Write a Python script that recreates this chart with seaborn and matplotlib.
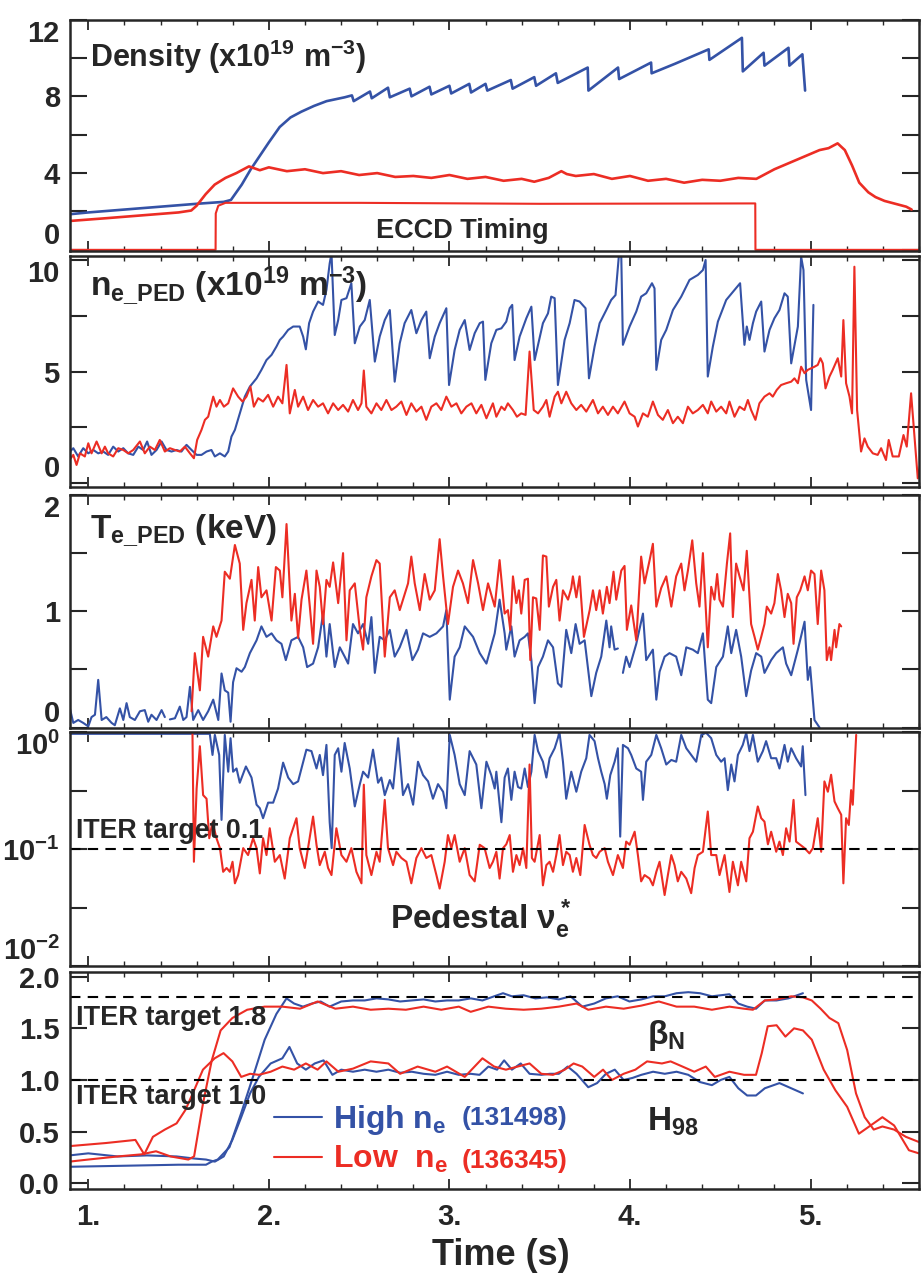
import numpy as np
import pandas as pd
import matplotlib
matplotlib.use("Agg")
import matplotlib.pyplot as plt
import seaborn as sns
from matplotlib.lines import Line2D
from matplotlib.ticker import MultipleLocator, FixedLocator, NullLocator, FixedFormatter

# ---------------- data ----------------
BLUE = "#3452a6"
RED = "#ec2d24"

# Panel 1: line-average density (1e19 m^-3)
dens_hi_t = [0.89, 1.0, 1.2, 1.4, 1.6, 1.75, 1.79, 1.85, 1.9, 1.95, 2.0, 2.06, 2.12, 2.18, 2.25, 2.32, 2.37, 2.42,
             2.46, 2.47, 2.56, 2.57, 2.66, 2.67, 2.78, 2.79, 2.89, 2.90, 3.0, 3.01, 3.11, 3.12, 3.2, 3.21, 3.34, 3.35,
             3.47, 3.48, 3.59, 3.60, 3.766, 3.77, 3.934, 3.94, 4.117, 4.12, 4.25, 4.436, 4.44, 4.62, 4.625, 4.74,
             4.745, 4.878, 4.883, 4.955, 4.97]
dens_hi = [1.85, 1.95, 2.1, 2.25, 2.4, 2.5, 2.6, 3.4, 4.2, 4.9, 5.6, 6.4, 6.9, 7.2, 7.5, 7.75, 7.85, 7.95,
           8.05, 7.75, 8.25, 7.9, 8.45, 7.95, 8.4, 8.0, 8.5, 8.1, 8.55, 8.15, 8.65, 8.2, 8.65, 8.3, 8.85, 8.4,
           9.0, 8.55, 9.2, 8.7, 9.5, 8.3, 9.5, 8.9, 9.76, 9.2, 9.7, 10.45, 9.9, 11.05, 9.3, 10.27,
           9.6, 10.53, 9.6, 10.19, 8.3]
dens_lo_t = [0.89, 1.1, 1.3, 1.5, 1.57, 1.6, 1.65, 1.7, 1.76, 1.82, 1.89, 1.95, 2.0, 2.1, 2.2, 2.3, 2.4, 2.5, 2.6,
             2.7, 2.8, 2.9, 3.0, 3.1, 3.2, 3.3, 3.4, 3.47, 3.55, 3.62, 3.65, 3.7, 3.8, 3.9, 4.0, 4.1, 4.2, 4.3,
             4.4, 4.5, 4.6, 4.7, 4.8, 4.9, 5.0, 5.05, 5.1, 5.15, 5.19, 5.23, 5.27, 5.32, 5.36, 5.41, 5.47, 5.53, 5.56]
dens_lo = [1.5, 1.65, 1.8, 1.95, 2.05, 2.3, 2.9, 3.4, 3.75, 4.0, 4.35, 4.15, 4.3, 4.1, 4.2, 4.0, 4.1, 3.9, 4.0,
           3.8, 3.85, 3.75, 3.9, 3.7, 3.8, 3.6, 3.7, 3.55, 3.75, 4.1, 3.95, 3.85, 3.95, 3.7, 3.85, 3.6, 3.7, 3.5,
           3.65, 3.6, 3.75, 3.7, 4.2, 4.6, 5.0, 5.2, 5.3, 5.55, 5.2, 4.4, 3.5, 3.0, 2.75, 2.55, 2.4, 2.25, 2.1]
eccd_t = [0.89, 1.705, 1.706, 1.72, 1.76, 2.5, 3.5, 4.694, 4.695, 5.62]
eccd = [0.0, 0.0, 1.9, 2.3, 2.45, 2.45, 2.4, 2.42, 0.0, 0.0]

# Panel 2: pedestal density (1e19 m^-3)
nped_hi_t = [0.889, 0.917, 0.944, 0.972, 1.0, 1.028, 1.055, 1.083, 1.11, 1.138, 1.166, 1.194, 1.221, 1.249, 1.277,
             1.304, 1.326, 1.35, 1.378, 1.406, 1.433, 1.461, 1.489, 1.516, 1.544, 1.572, 1.6, 1.627, 1.655, 1.682,
             1.701, 1.729, 1.756, 1.775, 1.793, 1.812, 1.839, 1.867, 1.895, 1.932, 1.959, 1.987, 2.015, 2.042,
             2.061, 2.079, 2.107, 2.135, 2.171, 2.19, 2.205, 2.223, 2.245, 2.273, 2.3, 2.319, 2.337, 2.347, 2.365,
             2.384, 2.402, 2.43, 2.457, 2.476, 2.504, 2.531, 2.559, 2.587, 2.614, 2.642, 2.67, 2.697, 2.725, 2.752,
             2.789, 2.817, 2.845, 2.872, 2.891, 2.919, 2.946, 2.983, 2.998, 3.029, 3.057, 3.085, 3.112, 3.14,
             3.168, 3.186, 3.199, 3.232, 3.26, 3.288, 3.315, 3.334, 3.348, 3.361, 3.389, 3.426, 3.454, 3.472,
             3.518, 3.546, 3.564, 3.583, 3.601, 3.638, 3.666, 3.693, 3.721, 3.754, 3.773, 3.804, 3.832, 3.869,
             3.896, 3.92, 3.939, 3.952, 3.961, 3.998, 4.035, 4.062, 4.09, 4.122, 4.136, 4.146, 4.173, 4.201,
             4.238, 4.284, 4.33, 4.376, 4.404, 4.419, 4.431, 4.459, 4.487, 4.533, 4.579, 4.61, 4.634, 4.647,
             4.662, 4.681, 4.699, 4.727, 4.745, 4.773, 4.8, 4.828, 4.856, 4.874, 4.893, 4.93, 4.948, 4.961,
             4.976, 5.003, 5.016]
nped_hi = [1.34, 1.57, 1.2, 1.57, 1.34, 1.49, 1.34, 1.42, 1.27, 1.64, 1.42, 1.57, 1.34, 1.27, 1.64,
           1.49, 1.87, 1.27, 1.49, 1.87, 1.49, 1.42, 1.49, 1.42, 1.72, 1.49, 1.27, 1.27, 1.42, 1.49,
           1.2, 1.34, 1.2, 1.42, 2.09, 2.39, 3.13, 3.88, 4.33, 4.7, 5.08, 5.52, 5.75, 6.12,
           6.42, 6.57, 6.87, 7.02, 7.02, 6.57, 6.0, 7.17, 7.69, 8.14, 7.99, 8.66, 9.85, 10.3, 6.64,
           7.31, 8.21, 8.29, 8.96, 6.27, 7.02, 7.31, 8.21, 5.45, 6.57, 7.31, 7.76, 4.55, 6.27, 7.17,
           7.76, 6.72, 7.31, 7.69, 5.6, 6.57, 7.17, 7.84, 4.4, 5.97, 6.87, 7.31, 5.97, 6.72,
           7.17, 7.24, 4.63, 6.27, 6.87, 6.94, 7.24, 7.84, 7.99, 5.52, 6.57, 7.39, 7.91, 5.52,
           7.17, 7.61, 8.36, 8.29, 4.4, 6.42, 7.17, 8.21, 8.14, 7.84, 4.7, 6.12, 7.17, 7.76,
           8.21, 8.43, 10.23, 10.15, 6.2, 7.02, 7.69, 8.36, 8.51, 8.96, 8.73, 5.08, 6.42, 6.87,
           7.76, 8.36, 9.11, 9.33, 9.55, 10.0, 4.78, 6.12, 7.24, 8.21, 8.66, 8.96, 6.2, 7.02,
           6.42, 7.17, 7.69, 8.14, 5.9, 6.87, 7.39, 7.76, 8.51, 8.36, 5.37, 7.02, 10.15, 9.55,
           4.63, 3.28, 7.99]
nped_lo_t = [0.889, 0.917, 0.935, 0.954, 0.981, 1.0, 1.018, 1.046, 1.074, 1.092, 1.11, 1.138, 1.166, 1.194, 1.221,
             1.249, 1.286, 1.313, 1.341, 1.369, 1.396, 1.424, 1.452, 1.48, 1.507, 1.535, 1.563, 1.585, 1.603, 1.627,
             1.646, 1.664, 1.692, 1.71, 1.729, 1.751, 1.775, 1.802, 1.83, 1.854, 1.876, 1.898, 1.917, 1.941, 1.968,
             1.996, 2.024, 2.051, 2.075, 2.098, 2.116, 2.144, 2.162, 2.19, 2.217, 2.245, 2.273, 2.3, 2.328, 2.356,
             2.384, 2.411, 2.439, 2.466, 2.494, 2.513, 2.526, 2.54, 2.568, 2.596, 2.623, 2.651, 2.679, 2.706, 2.734,
             2.762, 2.789, 2.817, 2.845, 2.872, 2.9, 2.928, 2.955, 2.983, 3.011, 3.039, 3.066, 3.094, 3.122, 3.149,
             3.177, 3.205, 3.241, 3.26, 3.288, 3.306, 3.324, 3.352, 3.374, 3.398, 3.422, 3.444, 3.467, 3.491,
             3.518, 3.537, 3.555, 3.583, 3.601, 3.62, 3.647, 3.675, 3.703, 3.73, 3.758, 3.795, 3.823, 3.85, 3.878,
             3.906, 3.933, 3.97, 3.998, 4.026, 4.044, 4.072, 4.099, 4.127, 4.155, 4.182, 4.21, 4.238, 4.265, 4.293,
             4.321, 4.348, 4.376, 4.404, 4.431, 4.45, 4.478, 4.505, 4.533, 4.551, 4.579, 4.607, 4.634, 4.653,
             4.671, 4.695, 4.717, 4.745, 4.773, 4.791, 4.813, 4.837, 4.865, 4.893, 4.911, 4.93, 4.948, 4.967,
             4.985, 5.003, 5.022, 5.04, 5.055, 5.068, 5.083, 5.105, 5.123, 5.151, 5.17, 5.182, 5.197, 5.216,
             5.23, 5.243, 5.258, 5.28, 5.299, 5.317, 5.345, 5.372, 5.391, 5.418, 5.433, 5.455, 5.489, 5.515,
             5.533, 5.557, 5.594, 5.612]
nped_lo = [0.97, 1.27, 0.82, 1.34, 1.2, 1.79, 1.34, 1.87, 1.34, 1.64, 1.34, 1.2, 1.57, 1.49, 1.34,
           1.49, 1.87, 1.34, 1.64, 1.49, 1.94, 1.42, 1.57, 1.49, 1.42, 1.64, 1.34, 1.12, 1.94, 2.39,
           2.84, 2.98, 3.88, 3.43, 3.73, 3.43, 3.58, 4.25, 3.88, 3.66, 3.88, 4.33, 3.43, 3.81, 3.66,
           3.96, 3.43, 3.88, 3.58, 5.3, 3.13, 4.18, 3.43, 3.88, 3.28, 3.73, 3.43, 3.58, 3.13, 3.58,
           3.28, 3.51, 3.21, 3.73, 3.28, 3.58, 5.05, 3.43, 3.13, 3.58, 3.28, 3.73, 3.28, 3.43, 3.66,
           3.06, 3.58, 3.21, 3.43, 2.84, 3.43, 3.58, 3.28, 3.88, 3.43, 3.58, 3.13, 3.43, 3.58, 3.13,
           3.51, 2.91, 3.58, 2.98, 3.43, 3.28, 3.58, 3.28, 2.98, 3.13, 3.06, 5.9, 3.28, 3.13,
           3.43, 3.73, 2.98, 3.88, 4.1, 3.58, 4.1, 3.58, 3.28, 3.51, 3.21, 3.73, 3.13, 3.43, 3.06,
           3.43, 3.13, 3.66, 3.13, 2.98, 2.54, 3.13, 2.98, 3.66, 3.06, 2.84, 3.28, 2.69, 2.98, 2.69,
           3.43, 3.13, 3.28, 3.51, 3.13, 3.66, 3.21, 3.43, 3.13, 3.66, 2.98, 3.43, 3.28, 3.73,
           3.28, 2.84, 3.58, 3.88, 4.03, 3.88, 4.18, 4.4, 4.48, 4.55, 4.7, 4.48, 5.22, 4.93,
           5.08, 5.15, 5.22, 5.3, 5.6, 5.37, 4.25, 4.78, 5.08, 5.6, 4.78, 7.31, 4.48, 3.88,
           3.13, 9.7, 3.28, 1.42, 2.01, 1.64, 1.34, 1.27, 1.57, 1.04, 1.94, 1.2, 1.2, 2.16,
           1.64, 4.03, 0.22, 1.04]

# Panel 3: pedestal temperature (keV); NaN marks a gap in the trace
tped_hi_t = [0.898, 0.917, 0.944, 0.972, 1.0, 1.018, 1.037, 1.055, 1.074, 1.1, 1.129, 1.147, 1.175, 1.194, 1.212,
             1.23, 1.258, 1.286, 1.313, 1.332, 1.35, 1.378, 1.406, 1.424, 1.44, 1.452, 1.48, 1.507, 1.526, 1.544,
             1.563, 1.581, 1.609, 1.636, 1.664, 1.692, 1.72, 1.738, 1.756, 1.775, 1.788, 1.802, 1.821, 1.849,
             1.867, 1.895, 1.932, 1.959, 1.987, 2.015, 2.042, 2.07, 2.094, 2.125, 2.162, 2.19, 2.212, 2.245,
             2.273, 2.3, 2.319, 2.337, 2.365, 2.393, 2.42, 2.439, 2.466, 2.494, 2.522, 2.55, 2.568, 2.587, 2.614,
             2.642, 2.67, 2.697, 2.725, 2.762, 2.795, 2.826, 2.854, 2.891, 2.928, 2.965, 2.983, 3.002, 3.029,
             3.057, 3.085, 3.131, 3.168, 3.205, 3.251, 3.278, 3.306, 3.315, 3.343, 3.361, 3.389, 3.417, 3.435,
             3.454, 3.472, 3.491, 3.518, 3.546, 3.574, 3.601, 3.62, 3.647, 3.675, 3.699, 3.721, 3.749, 3.786,
             3.813, 3.841, 3.869, 3.887, 3.896, 3.915, 3.933, 3.947, 3.961, 3.979, 3.998, 4.035, 4.072, 4.09,
             4.127, 4.146, 4.164, 4.192, 4.219, 4.256, 4.284, 4.312, 4.348, 4.376, 4.404, 4.431, 4.45, 4.478,
             4.515, 4.542, 4.561, 4.588, 4.616, 4.644, 4.671, 4.699, 4.727, 4.745, 4.782, 4.81, 4.847, 4.865,
             4.893, 4.93, 4.967, 4.985, 4.998, 5.022, 5.05]
tped_hi = [0.165, 0.04, 0.065, 0.04, 0.01, 0.09, 0.11, 0.41, 0.065, 0.09, 0.04, 0.02, 0.165, 0.065, 0.21,
           0.09, 0.065, 0.14, 0.15, 0.05, 0.11, 0.065, 0.15, 0.09, np.nan, 0.07, 0.08, 0.18, 0.065, 0.09,
           0.35, 0.065, 0.15, 0.065, 0.14, 0.24, 0.065, 0.465, 0.32, 0.3, 0.05, 0.39, 0.51, 0.48,
           0.52, 0.64, 0.75, 0.87, 0.78, 0.81, 0.75, 0.72, 0.58, 0.75, 0.78, 0.69, 0.52, 0.55,
           0.69, 0.98, 0.61, 0.89, 0.52, 0.69, 0.61, 0.55, 0.89, 0.81, 0.89, 0.72, 0.95, 0.47, 0.78,
           0.75, 0.84, 0.61, 0.69, 0.84, 0.58, 0.67, 0.81, 0.78, 0.81, 0.87, 1.01, 0.24, 0.61,
           0.69, 0.87, 0.78, 0.64, 0.55, 0.81, 1.1, 0.81, 0.67, 0.87, 0.61, 0.75, 0.78, 0.81,
           0.58, 0.21, 0.52, 0.61, 0.75, 0.69, 0.38, 0.35, 0.84, 0.64, 0.89, 0.72, 0.75, 0.27,
           0.47, 0.61, 0.92, 0.69, 0.87, 0.67, 0.68, np.nan, 0.47, 0.61, 0.52, 0.72, 0.98, 0.58,
           0.67, 0.24, 0.48, 0.61, 0.64, 0.61, 0.45, 0.69, 0.67, 0.64, 0.81, 0.24, 0.21, 0.52,
           0.61, 0.87, 0.64, 0.84, 0.61, 0.27, 0.49, 0.64, 0.61, 0.47, 0.58, 0.64, 0.69, 0.55,
           0.45, 0.67, 0.91, 0.41, 0.52, 0.065, 0.0]
tped_lo_t = [1.572, 1.59, 1.618, 1.636, 1.664, 1.692, 1.71, 1.738, 1.756, 1.784, 1.812, 1.839, 1.858, 1.876, 1.904,
             1.922, 1.941, 1.959, 1.987, 2.015, 2.039, 2.061, 2.075, 2.098, 2.125, 2.144, 2.162, 2.181, 2.208,
             2.227, 2.245, 2.264, 2.282, 2.3, 2.319, 2.337, 2.356, 2.384, 2.411, 2.43, 2.448, 2.476, 2.504, 2.522,
             2.54, 2.568, 2.596, 2.614, 2.642, 2.67, 2.697, 2.725, 2.743, 2.771, 2.789, 2.808, 2.836, 2.863,
             2.891, 2.919, 2.946, 2.965, 2.992, 3.02, 3.048, 3.075, 3.103, 3.131, 3.159, 3.186, 3.214, 3.251,
             3.278, 3.306, 3.324, 3.337, 3.352, 3.371, 3.385, 3.398, 3.417, 3.435, 3.448, 3.463, 3.481, 3.5,
             3.518, 3.537, 3.551, 3.574, 3.592, 3.61, 3.629, 3.657, 3.675, 3.684, 3.703, 3.721, 3.745, 3.777,
             3.795, 3.813, 3.832, 3.85, 3.872, 3.887, 3.909, 3.924, 3.952, 3.97, 3.983, 4.007, 4.035, 4.062,
             4.081, 4.109, 4.127, 4.146, 4.173, 4.201, 4.229, 4.256, 4.284, 4.302, 4.321, 4.345, 4.367, 4.385,
             4.404, 4.431, 4.45, 4.468, 4.483, 4.496, 4.515, 4.537, 4.555, 4.57, 4.588, 4.607, 4.629, 4.647,
             4.671, 4.69, 4.708, 4.727, 4.745, 4.758, 4.782, 4.8, 4.819, 4.837, 4.856, 4.874, 4.893, 4.906,
             4.924, 4.943, 4.967, 4.985, 5.003, 5.022, 5.04, 5.059, 5.077, 5.09, 5.105, 5.114, 5.133, 5.142,
             5.16, 5.17]
tped_lo = [0.14, 0.64, 0.32, 0.78, 0.61, 0.87, 0.78, 0.92, 1.34, 1.28, 1.57, 1.41, 0.84, 1.07, 1.27,
           0.92, 1.38, 1.12, 1.18, 0.92, 1.38, 1.35, 1.12, 1.75, 0.92, 1.15, 0.77, 1.1, 1.35,
           1.04, 0.72, 1.35, 1.21, 0.89, 1.27, 1.21, 1.42, 1.07, 1.5, 0.75, 1.18, 1.24, 0.84, 0.67,
           1.12, 1.3, 1.44, 1.41, 0.61, 1.12, 1.18, 1.01, 1.1, 1.24, 1.47, 1.24, 1.01, 1.32,
           1.1, 1.18, 1.62, 1.3, 0.89, 1.21, 1.35, 1.24, 1.07, 1.44, 1.24, 1.01, 1.24, 1.04,
           1.44, 0.98, 1.01, 0.84, 1.3, 1.07, 1.18, 0.98, 1.27, 1.28, 0.58, 1.12, 1.11, 0.84,
           1.48, 1.47, 1.04, 1.21, 1.27, 0.92, 1.18, 1.1, 1.2, 1.3, 1.12, 1.3, 0.78, 1.01,
           1.18, 1.01, 1.18, 0.98, 1.21, 1.07, 1.34, 1.1, 1.35, 1.39, 0.84, 1.05, 0.75, 1.47,
           1.24, 1.44, 1.58, 1.04, 1.2, 1.3, 1.04, 1.3, 1.41, 1.18, 1.35, 1.61, 1.24, 1.04,
           1.5, 0.69, 1.21, 1.1, 1.32, 1.1, 1.04, 1.41, 1.67, 0.95, 1.41, 1.3, 1.18, 1.52,
           0.89, 0.78, 0.67, 0.78, 0.89, 1.04, 0.98, 1.07, 1.32, 1.18, 0.95, 1.15, 1.07, 0.72,
           1.12, 1.18, 1.3, 1.18, 1.35, 1.32, 0.89, 1.35, 1.18, 0.58, 0.69, 0.58, 0.84, 0.69,
           0.89, 0.87]

# Panel 4: pedestal collisionality nu_e*
nu_hi_t = [0.9, 1.1, 1.3, 1.5, 1.673, 1.688, 1.701, 1.725, 1.738, 1.756, 1.775, 1.788, 1.802, 1.821, 1.839, 1.873,
           1.904, 1.932, 1.95, 1.968, 1.996, 2.024, 2.051, 2.079, 2.107, 2.135, 2.162, 2.208, 2.236, 2.264, 2.282,
           2.3, 2.319, 2.337, 2.348, 2.365, 2.384, 2.402, 2.42, 2.448, 2.476, 2.504, 2.522, 2.55, 2.577, 2.605,
           2.623, 2.642, 2.67, 2.688, 2.716, 2.743, 2.771, 2.799, 2.826, 2.854, 2.882, 2.909, 2.937, 2.965, 2.983,
           3.002, 3.029, 3.057, 3.085, 3.112, 3.149, 3.177, 3.205, 3.232, 3.251, 3.26, 3.288, 3.306, 3.324, 3.343,
           3.361, 3.38, 3.398, 3.417, 3.435, 3.454, 3.472, 3.491, 3.518, 3.537, 3.555, 3.583, 3.61, 3.629, 3.647,
           3.675, 3.703, 3.73, 3.758, 3.776, 3.804, 3.823, 3.841, 3.86, 3.872, 3.891, 3.915, 3.933, 3.946, 3.961,
           3.989, 4.007, 4.035, 4.062, 4.072, 4.09, 4.118, 4.146, 4.173, 4.201, 4.229, 4.256, 4.284, 4.312, 4.339,
           4.367, 4.395, 4.422, 4.45, 4.478, 4.505, 4.524, 4.542, 4.561, 4.579, 4.598, 4.625, 4.644, 4.662, 4.681,
           4.708, 4.736, 4.754, 4.782, 4.81, 4.828, 4.856, 4.874, 4.893, 4.92, 4.948, 4.957, 4.972]
nu_hi = [0.97, 0.97, 0.97, 0.97, 0.97, 0.64, 0.95, 0.64, 0.178, 0.95, 0.46, 0.89, 0.46, 0.49, 0.37, 0.51,
         0.41, 0.24, 0.224, 0.184, 0.25, 0.25, 0.33, 0.55, 0.41, 0.36, 0.38, 0.71, 0.69, 0.49, 0.64,
         0.43, 0.78, 0.17, 0.102, 0.64, 0.73, 0.46, 0.81, 0.49, 0.232, 0.36, 0.46, 0.41, 0.71, 0.37,
         0.41, 0.29, 0.39, 0.33, 0.89, 0.29, 0.36, 0.24, 0.56, 0.43, 0.38, 0.27, 0.36, 0.31, 0.224,
         0.95, 0.64, 0.36, 0.29, 0.69, 0.53, 0.224, 0.56, 0.43, 0.33, 0.46, 0.17, 0.41, 0.49, 0.264,
         0.46, 0.34, 0.33, 0.49, 0.34, 0.46, 0.95, 0.69, 0.56, 0.41, 0.6, 0.73, 0.99, 0.56, 0.27,
         0.46, 0.31, 0.46, 0.6, 0.95, 0.84, 0.6, 0.46, 0.36, 0.27, 0.43, 0.56, 0.73, 0.128, 0.78,
         0.73, 0.64, 0.49, 0.46, 0.264, 0.56, 0.64, 0.95, 0.73, 0.53, 0.58, 0.56, 0.95, 0.73, 0.64,
         0.56, 0.95, 0.99, 0.89, 0.64, 0.56, 0.6, 0.32, 0.53, 0.38, 0.64, 0.78, 0.99, 0.69, 0.95,
         0.56, 0.69, 0.84, 0.6, 0.6, 0.49, 0.78, 0.56, 0.73, 0.6, 0.51, 0.76, 0.29]
nu_lo_t = [1.577, 1.585, 1.6, 1.618, 1.636, 1.655, 1.67, 1.688, 1.71, 1.729, 1.747, 1.766, 1.784, 1.799, 1.812, 1.83,
           1.858, 1.885, 1.913, 1.932, 1.95, 1.968, 1.987, 2.005, 2.033, 2.061, 2.088, 2.116, 2.153, 2.171, 2.199,
           2.217, 2.245, 2.264, 2.282, 2.31, 2.328, 2.347, 2.374, 2.402, 2.43, 2.457, 2.485, 2.513, 2.526, 2.54,
           2.568, 2.596, 2.614, 2.642, 2.66, 2.688, 2.706, 2.734, 2.762, 2.789, 2.817, 2.845, 2.872, 2.9, 2.928,
           2.946, 2.974, 2.992, 3.011, 3.029, 3.057, 3.085, 3.112, 3.14, 3.168, 3.195, 3.223, 3.241, 3.26, 3.278,
           3.297, 3.315, 3.334, 3.352, 3.371, 3.389, 3.408, 3.426, 3.444, 3.457, 3.472, 3.5, 3.518, 3.537, 3.555,
           3.574, 3.592, 3.61, 3.629, 3.647, 3.666, 3.684, 3.703, 3.725, 3.749, 3.776, 3.795, 3.813, 3.832, 3.86,
           3.878, 3.906, 3.933, 3.961, 3.979, 3.998, 4.026, 4.044, 4.062, 4.081, 4.109, 4.127, 4.146, 4.164, 4.192,
           4.21, 4.229, 4.247, 4.265, 4.284, 4.312, 4.339, 4.358, 4.376, 4.404, 4.431, 4.45, 4.478, 4.496, 4.524,
           4.551, 4.57, 4.598, 4.616, 4.644, 4.662, 4.681, 4.708, 4.727, 4.745, 4.764, 4.782, 4.81, 4.828, 4.847,
           4.865, 4.884, 4.906, 4.92, 4.939, 4.967, 4.994, 5.013, 5.04, 5.059, 5.077, 5.096, 5.114, 5.133, 5.151,
           5.17, 5.182, 5.197, 5.212, 5.225, 5.234, 5.253]
nu_lo = [0.99, 0.078, 0.33, 0.76, 0.29, 0.27, 0.124, 0.17, 0.124, 0.102, 0.064, 0.069, 0.064, 0.078, 0.051, 0.06,
         0.102, 0.089, 0.124, 0.102, 0.062, 0.124, 0.089, 0.151, 0.078, 0.089, 0.056, 0.124, 0.184, 0.102, 0.069,
         0.102, 0.19, 0.109, 0.073, 0.095, 0.069, 0.06, 0.151, 0.089, 0.078, 0.102, 0.064, 0.051, 0.356, 0.089,
         0.06, 0.095, 0.078, 0.264, 0.102, 0.073, 0.095, 0.084, 0.078, 0.051, 0.084, 0.102, 0.084, 0.089, 0.06,
         0.046, 0.078, 0.132, 0.102, 0.132, 0.078, 0.102, 0.06, 0.053, 0.109, 0.102, 0.069, 0.078, 0.095, 0.056,
         0.102, 0.11, 0.132, 0.064, 0.089, 0.073, 0.102, 0.069, 0.53, 0.084, 0.078, 0.132, 0.049, 0.073, 0.078,
         0.064, 0.089, 0.132, 0.073, 0.095, 0.089, 0.064, 0.084, 0.06, 0.161, 0.109, 0.089, 0.084, 0.095, 0.102,
         0.078, 0.06, 0.089, 0.069, 0.116, 0.109, 0.141, 0.089, 0.053, 0.06, 0.056, 0.049, 0.064, 0.078, 0.0405,
         0.06, 0.089, 0.073, 0.053, 0.064, 0.056, 0.042, 0.069, 0.089, 0.095, 0.21, 0.089, 0.089, 0.06, 0.089,
         0.043, 0.078, 0.049, 0.078, 0.053, 0.124, 0.141, 0.232, 0.184, 0.172, 0.11, 0.141, 0.095, 0.116, 0.089,
         0.151, 0.116, 0.264, 0.116, 0.11, 0.102, 0.092, 0.102, 0.184, 0.095, 0.38, 0.31, 0.433, 0.256, 0.224,
         0.197, 0.051, 0.184, 0.161, 0.32, 0.24, 0.95]

# Panel 5: beta_N and H98
bn_hi_t = [0.896, 1.2, 1.5, 1.652, 1.684, 1.717, 1.782, 1.847, 1.912, 1.977, 2.042, 2.098, 2.14, 2.189, 2.238, 2.287,
           2.336, 2.401, 2.466, 2.531, 2.596, 2.662, 2.727, 2.792, 2.857, 2.922, 2.987, 3.052, 3.118, 3.183, 3.248,
           3.297, 3.346, 3.411, 3.476, 3.541, 3.606, 3.671, 3.736, 3.802, 3.867, 3.932, 3.997, 4.063, 4.128, 4.193,
           4.258, 4.323, 4.388, 4.454, 4.502, 4.551, 4.6, 4.649, 4.698, 4.747, 4.812, 4.877, 4.926, 4.958]
bn_hi = [0.16, 0.17, 0.18, 0.18, 0.21, 0.23, 0.35, 0.68, 1.03, 1.39, 1.64, 1.79, 1.74, 1.71, 1.74, 1.76,
         1.71, 1.76, 1.77, 1.77, 1.79, 1.78, 1.76, 1.77, 1.78, 1.76, 1.77, 1.77, 1.79, 1.77, 1.81,
         1.84, 1.81, 1.82, 1.79, 1.8, 1.78, 1.81, 1.71, 1.74, 1.79, 1.81, 1.76, 1.78, 1.81, 1.81,
         1.84, 1.85, 1.84, 1.81, 1.82, 1.83, 1.74, 1.71, 1.69, 1.77, 1.77, 1.79, 1.82, 1.84]
h98_hi_t = [0.896, 1.0, 1.163, 1.326, 1.489, 1.586, 1.652, 1.701, 1.75, 1.798, 1.847, 1.896, 1.945, 2.01, 2.075,
            2.114, 2.157, 2.205, 2.254, 2.303, 2.352, 2.401, 2.466, 2.531, 2.596, 2.662, 2.727, 2.792, 2.857, 2.922,
            2.987, 3.052, 3.118, 3.167, 3.216, 3.264, 3.303, 3.346, 3.395, 3.444, 3.509, 3.557, 3.606, 3.655, 3.704,
            3.769, 3.818, 3.867, 3.916, 3.965, 4.014, 4.063, 4.128, 4.193, 4.258, 4.323, 4.388, 4.454, 4.502, 4.551,
            4.6, 4.649, 4.698, 4.747, 4.828, 4.893, 4.958]
h98_hi = [0.27, 0.29, 0.26, 0.27, 0.26, 0.24, 0.23, 0.21, 0.26, 0.42, 0.64, 0.87, 1.03, 1.16, 1.21,
          1.32, 1.16, 1.1, 1.16, 1.19, 1.05, 1.1, 1.08, 1.1, 1.08, 1.1, 1.07, 1.08, 1.06, 1.05,
          1.08, 1.05, 1.06, 1.05, 1.13, 1.1, 1.19, 1.1, 1.16, 1.06, 1.05, 1.06, 1.06, 1.13, 1.06,
          0.93, 0.97, 1.06, 1.1, 1.0, 1.02, 1.05, 1.08, 1.06, 1.08, 1.05, 0.98, 0.95, 1.0, 1.03,
          0.92, 0.85, 0.85, 0.92, 0.97, 0.92, 0.87]
bn_lo_t = [0.896, 1.0, 1.163, 1.293, 1.375, 1.456, 1.554, 1.586, 1.635, 1.684, 1.733, 1.798, 1.88, 1.977, 2.075,
           2.173, 2.27, 2.368, 2.466, 2.564, 2.662, 2.759, 2.857, 2.955, 3.052, 3.118, 3.216, 3.313, 3.411, 3.509,
           3.606, 3.704, 3.769, 3.867, 3.965, 4.063, 4.16, 4.258, 4.356, 4.454, 4.551, 4.632, 4.681, 4.747, 4.812,
           4.893, 4.958, 5.007, 5.056, 5.105, 5.154, 5.203, 5.252, 5.3, 5.35, 5.398, 5.463, 5.528, 5.6]
bn_lo = [0.21, 0.23, 0.26, 0.28, 0.31, 0.26, 0.23, 0.26, 0.77, 1.19, 1.48, 1.6, 1.68, 1.71, 1.71,
         1.69, 1.76, 1.69, 1.71, 1.68, 1.69, 1.68, 1.71, 1.68, 1.71, 1.66, 1.71, 1.69, 1.68, 1.69,
         1.71, 1.74, 1.68, 1.71, 1.69, 1.72, 1.76, 1.71, 1.71, 1.68, 1.71, 1.69, 1.68, 1.77, 1.78,
         1.81, 1.8, 1.77, 1.69, 1.6, 1.55, 1.29, 0.87, 0.64, 0.52, 0.55, 0.52, 0.45, 0.4]
h98_lo_t = [0.896, 1.098, 1.261, 1.31, 1.358, 1.424, 1.489, 1.538, 1.586, 1.635, 1.7, 1.749, 1.798, 1.847, 1.896,
            1.945, 2.01, 2.075, 2.14, 2.205, 2.27, 2.319, 2.385, 2.466, 2.564, 2.662, 2.727, 2.824, 2.922, 2.987,
            3.085, 3.183, 3.248, 3.313, 3.378, 3.444, 3.509, 3.574, 3.639, 3.688, 3.736, 3.802, 3.851, 3.9, 3.965,
            4.03, 4.095, 4.177, 4.225, 4.291, 4.356, 4.42, 4.47, 4.551, 4.632, 4.698, 4.73, 4.763, 4.812, 4.861,
            4.909, 4.958, 5.007, 5.073, 5.138, 5.203, 5.268, 5.333, 5.398, 5.463, 5.545, 5.6]
h98_lo = [0.36, 0.39, 0.42, 0.28, 0.45, 0.52, 0.58, 0.71, 0.9, 1.1, 1.21, 1.26, 1.18, 1.03, 1.06,
          1.05, 1.08, 1.13, 1.1, 1.16, 1.1, 1.18, 1.08, 1.11, 1.18, 1.16, 1.06, 1.13, 1.08, 1.13,
          1.03, 1.21, 1.13, 1.1, 1.13, 1.16, 1.06, 1.05, 1.1, 1.16, 1.13, 1.03, 1.1, 1.0, 1.06,
          1.1, 1.18, 1.16, 1.18, 1.13, 1.08, 1.13, 1.03, 1.08, 1.05, 1.05, 1.26, 1.52, 1.53, 1.42,
          1.5, 1.48, 1.39, 1.1, 0.9, 0.74, 0.48, 0.56, 0.64, 0.56, 0.32, 0.29]

x_ticks = [1, 2, 3, 4, 5]
x_ticklabels = ["1.", "2.", "3.", "4.", "5."]

# ---------------- style ----------------
sns.set_style("ticks")
plt.rcParams["font.family"] = ["Liberation Sans", "DejaVu Sans"]
plt.rcParams["font.weight"] = "bold"
plt.rcParams["mathtext.default"] = "regular"
plt.rcParams["axes.linewidth"] = 1.8

fig = plt.figure(figsize=(9.23, 12.8), dpi=100)
L, W = 0.0753, 0.9204
rects = [(0.8039, 0.1808), (0.6195, 0.1805), (0.4316, 0.1817), (0.2453, 0.1826), (0.0711, 0.1695)]
axes = [fig.add_axes([L, b, W, h]) for b, h in rects]


def draw(ax, t, v, color, lw=1.5):
    df = pd.DataFrame({"t": t, "v": v})
    df["seg"] = df["v"].isna().cumsum()
    df = df.dropna()
    sns.lineplot(data=df, x="t", y="v", units="seg", estimator=None, sort=False,
                 color=color, lw=lw, ax=ax, legend=False)


draw(axes[0], dens_hi_t, dens_hi, BLUE, 1.9)
draw(axes[0], dens_lo_t, dens_lo, RED, 1.9)
draw(axes[0], eccd_t, eccd, RED, 1.5)
draw(axes[1], nped_hi_t, nped_hi, BLUE)
draw(axes[1], nped_lo_t, nped_lo, RED)
draw(axes[2], tped_hi_t, tped_hi, BLUE)
draw(axes[2], tped_lo_t, tped_lo, RED)
draw(axes[3], nu_hi_t, nu_hi, BLUE)
draw(axes[3], nu_lo_t, nu_lo, RED)
draw(axes[4], bn_hi_t, bn_hi, BLUE)
draw(axes[4], h98_hi_t, h98_hi, BLUE)
draw(axes[4], bn_lo_t, bn_lo, RED)
draw(axes[4], h98_lo_t, h98_lo, RED)

axes[3].set_yscale("log")

ylims = [(-0.06, 12.0), (-0.17, 10.18), (0.0, 2.0), (0.01, 1.0), (-0.055, 2.045)]
yticks = [[0, 2, 4, 6, 8, 10, 12], [0, 2.5, 5, 7.5, 10], [0, 0.5, 1, 1.5, 2],
          [0.01, 10 ** -1.5, 0.1, 10 ** -0.5, 1.0], [0, 0.5, 1.0, 1.5, 2.0]]
ylabels = [["0", "", "4", "", "8", "", "12"], ["0", "", "5", "", "10"], ["0", "", "1", "", "2"],
           ["$10^{-2}$", "", "$10^{-1}$", "", "$10^{0}$"], ["0.0", "0.5", "1.0", "1.5", "2.0"]]

for i, ax in enumerate(axes):
    ax.set_xlim(0.896, 5.601)
    ax.set_ylim(*ylims[i])
    ax.xaxis.set_major_locator(FixedLocator(x_ticks))
    ax.xaxis.set_minor_locator(MultipleLocator(0.2))
    ax.yaxis.set_major_locator(FixedLocator(yticks[i]))
    ax.yaxis.set_major_formatter(FixedFormatter(ylabels[i]))
    ax.yaxis.set_minor_locator(NullLocator())
    ax.set_xlabel("")
    ax.set_ylabel("")
    for s in ax.spines.values():
        s.set_visible(True)
        s.set_linewidth(1.8)
    ax.tick_params(axis="y", which="major", direction="in", length=12, width=1.5,
                   left=True, right=True, labelsize=21, pad=7)
    ax.tick_params(axis="x", which="major", direction="in", length=7, width=1.3,
                   top=True, bottom=True, labelsize=21, pad=10)
    ax.tick_params(axis="x", which="minor", direction="in", length=3.5, width=1.0,
                   top=True, bottom=True)
    if i < 4:
        ax.tick_params(axis="x", labelbottom=False)
    else:
        ax.set_xticklabels(x_ticklabels)
    for lbl in ax.get_yticklabels():
        lbl.set_fontweight("bold")
    if i < 4:
        ticks = ax.yaxis.get_major_ticks()
        ticks[0].label1.set_va("bottom")
        ticks[-1].label1.set_va("top")

for lbl in axes[4].get_xticklabels():
    lbl.set_fontweight("bold")

# annotations
axes[0].text(0.024, 0.84, "Density (x10$^{19}$ m$^{-3}$)", transform=axes[0].transAxes,
             fontsize=22, fontweight="bold", va="center", ha="left")
axes[0].text(0.462, 0.085, "ECCD Timing", transform=axes[0].transAxes,
             fontsize=19.5, fontweight="bold", va="center", ha="center")
axes[1].text(0.024, 0.87, "n$_{e\\_PED}$ (x10$^{19}$ m$^{-3}$)", transform=axes[1].transAxes,
             fontsize=24, fontweight="bold", va="center", ha="left")
axes[2].text(0.024, 0.85, "T$_{e\\_PED}$ (keV)", transform=axes[2].transAxes,
             fontsize=24, fontweight="bold", va="center", ha="left")
axes[3].axhline(0.1, color="black", lw=1.5, ls=(0, (5, 3.5)))
axes[3].text(0.008, 0.578, "ITER target 0.1", transform=axes[3].transAxes,
             fontsize=19.3, fontweight="bold", va="center", ha="left")
axes[3].text(0.484, 0.2, "Pedestal $\\nu_e^*$", transform=axes[3].transAxes,
             fontsize=24, fontweight="bold", va="center", ha="center")

ax5 = axes[4]
ax5.axhline(1.8, color="black", lw=1.5, ls=(0, (5, 3.5)))
ax5.axhline(1.0, color="black", lw=1.5, ls=(0, (5, 3.5)))
tr = ax5.get_yaxis_transform()
ax5.text(0.008, 1.6, "ITER target 1.8", transform=tr, fontsize=19.5, fontweight="bold", va="center", ha="left")
ax5.text(0.008, 0.84, "ITER target 1.0", transform=tr, fontsize=19.5, fontweight="bold", va="center", ha="left")
ax5.text(0.68, 1.43, "$\\beta_N$", transform=tr, fontsize=24, fontweight="bold", va="center", ha="left")
ax5.text(0.68, 0.6, "H$_{98}$", transform=tr, fontsize=24, fontweight="bold", va="center", ha="left")

handles = [Line2D([], [], color=BLUE, lw=1.5), Line2D([], [], color=RED, lw=1.5)]
leg = ax5.legend(handles, ["High n$_e$", "Low  n$_e$"], loc="center left",
                 bbox_to_anchor=(0.241, 0.23), frameon=False, fontsize=23,
                 handlelength=1.5, handletextpad=0.35, labelspacing=0.22,
                 borderpad=0.0, borderaxespad=0.0, labelcolor="linecolor")
for txt in leg.get_texts():
    txt.set_fontweight("bold")
ax5.text(0.462, 0.63, "(131498)", transform=tr, fontsize=19, fontweight="bold",
         color=BLUE, va="center", ha="left")
ax5.text(0.462, 0.22, "(136345)", transform=tr, fontsize=19, fontweight="bold",
         color=RED, va="center", ha="left")

ax5.set_xlabel("Time (s)", fontsize=26, fontweight="bold")
ax5.xaxis.set_label_coords(0.508, -0.225)

fig.savefig("out.png", dpi=100)
